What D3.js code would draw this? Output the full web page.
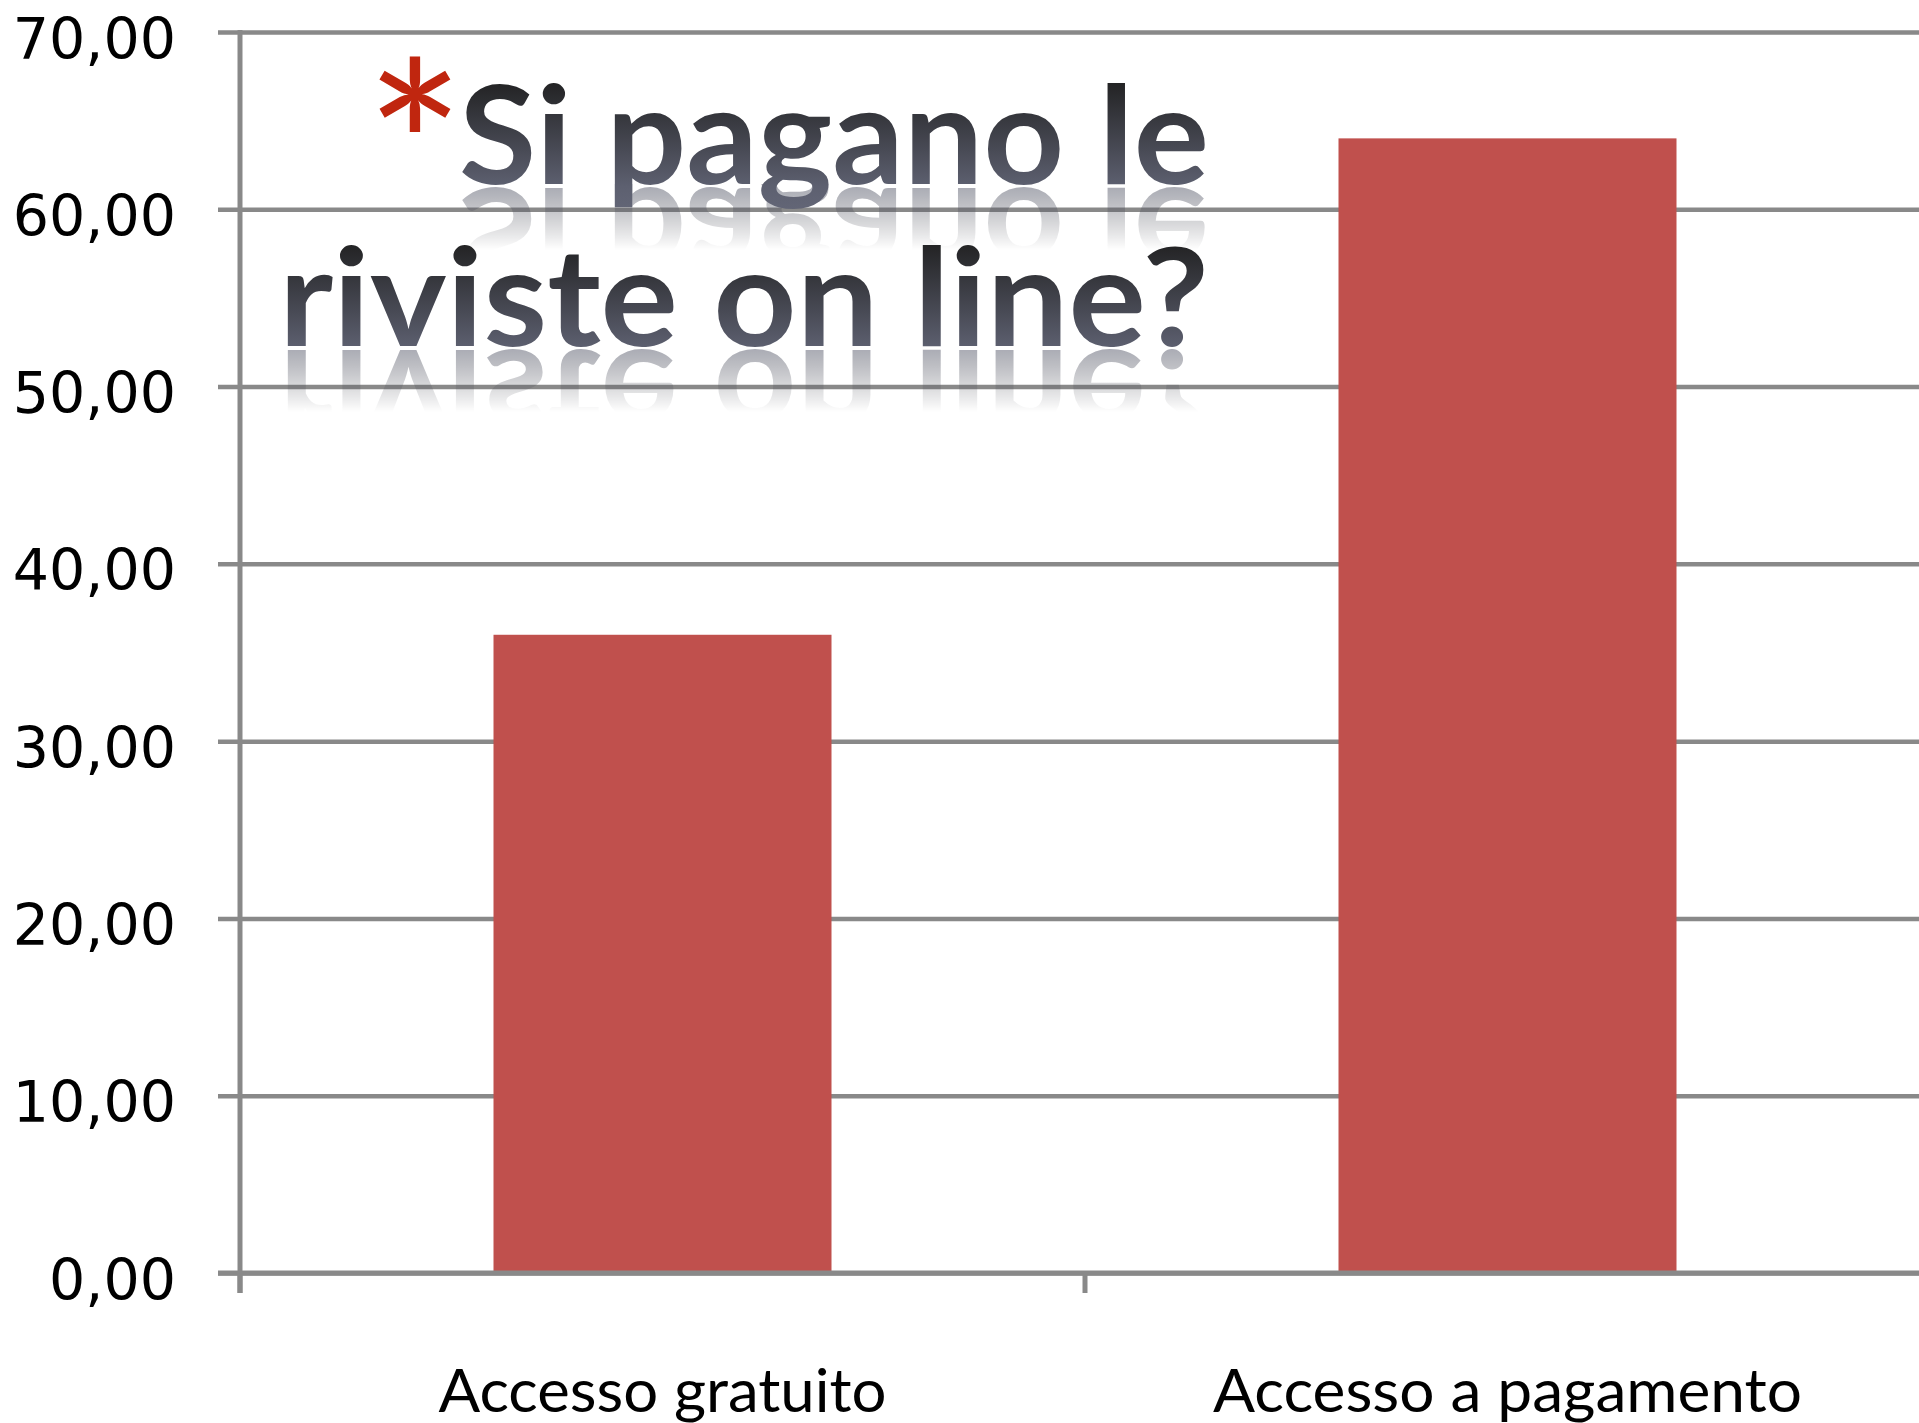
<!DOCTYPE html>
<html>
<head>
<meta charset="utf-8">
<script src="https://cdn.jsdelivr.net/npm/d3@7"></script>
<style>
  html, body { margin: 0; padding: 0; background: #ffffff; }
  svg { display: block; }
</style>
</head>
<body>
<svg id="chart" width="1919" height="1423"></svg>
<script>
// ---- data ----
const categories = ["Accesso gratuito", "Accesso a pagamento"];
const values = [36.0, 64.0];
const yTicks = [0, 10, 20, 30, 40, 50, 60, 70];
const titleLines = ["Si pagano le", "riviste on line?"];

(function () {
// ---- layout ----
const W = 1919, H = 1423;
const pLeft = 240, pRight = 1930, pTop = 32, pBottom = 1273;
const svg = d3.select("#chart");
const defs = svg.append("defs");

const y = d3.scaleLinear().domain([0, 70]).range([pBottom, pTop]);
const x = d3.scaleBand().domain(categories).range([pLeft, pRight])
  .paddingInner(0.6).paddingOuter(0.3);
const xCat = d3.scaleBand().domain(categories).range([pLeft, pRight]).padding(0);

const fmtLocale = d3.formatLocale({decimal: ",", thousands: ".", grouping: [3], currency: ["€", ""]});
const fmt = fmtLocale.format(".2f");

const gridColor = "#898989";

// gridlines + y ticks via axis
const gy = svg.append("g").attr("transform", `translate(${pLeft},0)`)
  .call(d3.axisLeft(y).tickValues(yTicks).tickFormat(fmt).tickSizeInner(22).tickSizeOuter(0).tickPadding(0));
gy.select(".domain").remove();
gy.selectAll(".tick line")
  .attr("x1", -22).attr("x2", W - pLeft + 20)
  .attr("stroke", gridColor).attr("stroke-width", 4.5);
gy.selectAll(".tick text")
  .attr("x", -64).attr("dy", null).attr("y", 26)
  .attr("text-anchor", "end")
  .style("font-family", "'DejaVu Sans', sans-serif")
  .style("font-size", "57px")
  .attr("fill", "#000");

// bars
svg.append("g").selectAll("rect").data(values).join("rect")
  .attr("x", (d, i) => x(categories[i]))
  .attr("width", x.bandwidth())
  .attr("y", d => y(d))
  .attr("height", d => y(0) - y(d))
  .attr("fill", "#c0504d");

// axes lines
svg.append("line").attr("x1", pLeft).attr("x2", pLeft)
  .attr("y1", y(70) - 2).attr("y2", pBottom + 20)
  .attr("stroke", gridColor).attr("stroke-width", 5);
svg.append("line").attr("x1", pLeft - 22).attr("x2", W)
  .attr("y1", y(0)).attr("y2", y(0))
  .attr("stroke", gridColor).attr("stroke-width", 5);

// category ticks
const catEdges = categories.map(c => xCat(c)).concat([pRight]);
svg.append("g").selectAll("line").data(catEdges).join("line")
  .attr("x1", d => d).attr("x2", d => d)
  .attr("y1", pBottom).attr("y2", pBottom + 20)
  .attr("stroke", gridColor).attr("stroke-width", 5);

// x labels
const labelWidths = [448, 589];
svg.append("g").selectAll("text").data(categories).join("text")
  .attr("x", d => xCat(d) + xCat.bandwidth() / 2)
  .attr("y", 1412)
  .attr("text-anchor", "middle")
  .attr("textLength", (d, i) => labelWidths[i])
  .attr("lengthAdjust", "spacingAndGlyphs")
  .style("font-family", "Lato, 'Open Sans', sans-serif")
  .style("font-size", "60px")
  .attr("fill", "#000")
  .text(d => d);

// ---- title with gradient and reflection ----
const titleBaselines = [184, 346];
const titleRight = 1209;
const titleWidths = [750, 930];
const titleSize = 136;

titleLines.forEach((t, i) => {
  const b = titleBaselines[i];
  const gid = "tg" + i;
  const g = defs.append("linearGradient").attr("id", gid)
    .attr("gradientUnits", "userSpaceOnUse")
    .attr("x1", 0).attr("x2", 0).attr("y1", b - 110).attr("y2", b + 40);
  g.append("stop").attr("offset", "0").attr("stop-color", "#1e1e1e");
  g.append("stop").attr("offset", "0.75").attr("stop-color", "#5d6070");
  g.append("stop").attr("offset", "1").attr("stop-color", "#66697a");

  // reflection mask
  const mgid = "mg" + i;
  const mg = defs.append("linearGradient").attr("id", mgid)
    .attr("gradientUnits", "userSpaceOnUse")
    .attr("x1", 0).attr("x2", 0).attr("y1", b).attr("y2", b + 66);
  mg.append("stop").attr("offset", "0").attr("stop-color", "#fff").attr("stop-opacity", 0.55);
  mg.append("stop").attr("offset", "1").attr("stop-color", "#fff").attr("stop-opacity", 0);
  const mask = defs.append("mask").attr("id", "m" + i)
    .attr("maskUnits", "userSpaceOnUse")
    .attr("x", 0).attr("y", 0).attr("width", W).attr("height", H);
  mask.append("rect").attr("x", 0).attr("y", b).attr("width", W).attr("height", 70)
    .attr("fill", `url(#${mgid})`);

  const rg = defs.append("linearGradient").attr("id", "rg" + i)
    .attr("gradientUnits", "userSpaceOnUse")
    .attr("x1", 0).attr("x2", 0).attr("y1", b - 100).attr("y2", b);
  rg.append("stop").attr("offset", "0").attr("stop-color", "#2a2a2a");
  rg.append("stop").attr("offset", "1").attr("stop-color", "#5d6070");

  // reflection
  svg.append("g").attr("mask", `url(#m${i})`)
    .append("text")
    .attr("transform", `translate(0,${2 * b + 4}) scale(1,-1)`)
    .attr("x", titleRight).attr("y", b)
    .attr("text-anchor", "end")
    .attr("textLength", titleWidths[i])
    .attr("lengthAdjust", "spacingAndGlyphs")
    .style("font-family", "Lato, 'Open Sans', sans-serif")
    .style("font-weight", "700")
    .style("font-size", titleSize + "px")
    .attr("fill", `url(#rg${i})`)
    .text(t);

  // main text
  svg.append("text")
    .attr("x", titleRight).attr("y", b)
    .attr("text-anchor", "end")
    .attr("textLength", titleWidths[i])
    .attr("lengthAdjust", "spacingAndGlyphs")
    .style("font-family", "Lato, 'Open Sans', sans-serif")
    .style("font-weight", "700")
    .style("font-size", titleSize + "px")
    .attr("fill", `url(#${gid})`)
    .text(t);
});

// red asterisk bullet
svg.append("text")
  .attr("x", 415).attr("y", 233)
  .attr("text-anchor", "middle")
  .style("font-family", "Lato, 'Open Sans', sans-serif")
  .style("font-weight", "400")
  .style("font-size", "235px")
  .attr("fill", "#c0260f")
  .text("*");
})();
</script>
</body>
</html>
